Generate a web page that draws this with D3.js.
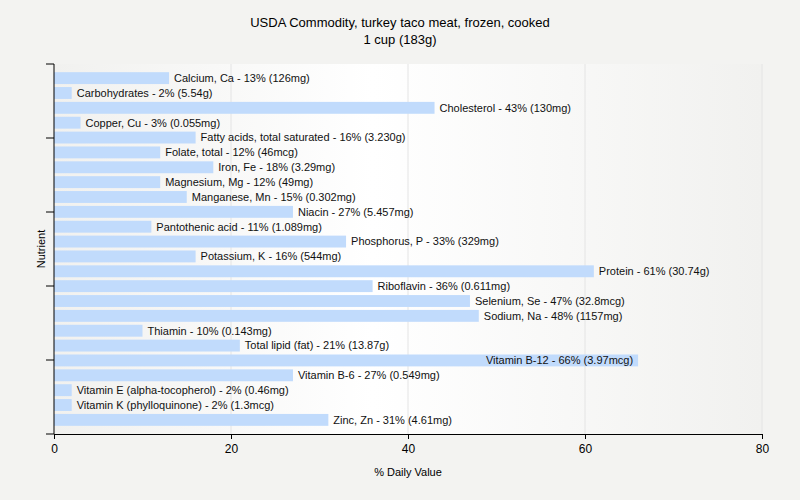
<!DOCTYPE html>
<html>
<head>
<meta charset="utf-8">
<script src="https://cdn.jsdelivr.net/npm/d3@7"></script>
<style>
  body { margin: 0; background: #f3f3f1; }
  text { font-family: "Liberation Sans", Arial, sans-serif; }
</style>
</head>
<body>
<div id="chart"></div>
<script>
var nutrients = [
  "Calcium, Ca", "Carbohydrates", "Cholesterol", "Copper, Cu",
  "Fatty acids, total saturated", "Folate, total", "Iron, Fe", "Magnesium, Mg",
  "Manganese, Mn", "Niacin", "Pantothenic acid", "Phosphorus, P",
  "Potassium, K", "Protein", "Riboflavin", "Selenium, Se",
  "Sodium, Na", "Thiamin", "Total lipid (fat)", "Vitamin B-12",
  "Vitamin B-6", "Vitamin E (alpha-tocopherol)", "Vitamin K (phylloquinone)", "Zinc, Zn"
];
var dailyValue = [13, 2, 43, 3, 16, 12, 18, 12, 15, 27, 11, 33, 16, 61, 36, 47, 48, 10, 21, 66, 27, 2, 2, 31];
var amounts = [
  "126mg", "5.54g", "130mg", "0.055mg", "3.230g", "46mcg", "3.29mg", "49mg",
  "0.302mg", "5.457mg", "1.089mg", "329mg", "544mg", "30.74g", "0.611mg", "32.8mcg",
  "1157mg", "0.143mg", "13.87g", "3.97mcg", "0.549mg", "0.46mg", "1.3mcg", "4.61mg"
];
var xTicks = [0, 20, 40, 60, 80];

var width = 800, height = 500;
var margin = { top: 64, right: 38, bottom: 66, left: 54 };

var svg = d3.select('#chart').append('svg')
  .attr('width', width).attr('height', height);

var defs = svg.append('defs');
var grad = defs.append('linearGradient').attr('id', 'bg')
  .attr('x1', '0%').attr('x2', '100%').attr('y1', '0%').attr('y2', '0%');
grad.append('stop').attr('offset', '0%').attr('stop-color', '#f1f1ef');
grad.append('stop').attr('offset', '45%').attr('stop-color', '#ffffff');
grad.append('stop').attr('offset', '100%').attr('stop-color', '#f1f1ef');

var x = d3.scaleLinear().domain([0, 80])
  .range([margin.left, width - margin.right]);
var y = d3.scaleBand().domain(nutrients)
  .range([margin.top, height - margin.bottom])
  .paddingInner(0.2).paddingOuter(0.55);

svg.append('rect')
  .attr('x', x(0)).attr('y', margin.top)
  .attr('width', x(80) - x(0)).attr('height', height - margin.bottom - margin.top)
  .attr('fill', 'url(#bg)');

// grid
svg.append('g').selectAll('line').data(xTicks.slice(1)).enter()
  .append('line')
  .attr('x1', function(d) { return x(d); }).attr('x2', function(d) { return x(d); })
  .attr('y1', margin.top).attr('y2', height - margin.bottom)
  .attr('stroke', '#e4e4e4').attr('stroke-width', 1);

var data = nutrients.map(function(n, i) {
  return { name: n, value: dailyValue[i], label: n + ' - ' + dailyValue[i] + '% (' + amounts[i] + ')' };
});

svg.append('g').selectAll('rect.bar').data(data).enter()
  .append('rect')
  .attr('class', 'bar')
  .attr('x', x(0))
  .attr('y', function(d) { return y(d.name); })
  .attr('width', function(d) { return x(d.value) - x(0); })
  .attr('height', y.bandwidth())
  .attr('fill', '#c1dbfc');

var labels = svg.append('g').selectAll('text').data(data).enter()
  .append('text')
  .attr('y', function(d) { return y(d.name) + y.bandwidth() / 2; })
  .attr('dy', '0.35em')
  .attr('font-size', 11)
  .attr('fill', '#111')
  .text(function(d) { return d.label; });

// labels that would run past the plot go inside the bar
labels.each(function(d) {
  var t = d3.select(this);
  var w = this.getComputedTextLength();
  if (x(d.value) + 5 + w > x(80)) {
    t.attr('x', x(d.value) - 5).attr('text-anchor', 'end');
  } else {
    t.attr('x', x(d.value) + 5).attr('text-anchor', 'start');
  }
});

// axes
var xAxis = d3.axisBottom(x).tickValues(xTicks).tickSize(5).tickSizeOuter(0);
var gx = svg.append('g')
  .attr('transform', 'translate(0,' + (height - margin.bottom) + ')')
  .call(xAxis);
gx.select('.domain').attr('stroke', '#000');
gx.selectAll('.tick line').attr('stroke', '#000');
gx.selectAll('.tick text').attr('font-size', 12).attr('fill', '#000')
  .attr('font-family', '"Liberation Sans", Arial, sans-serif').attr('dy', '0.9em');

// y axis: plain line with 5 even intervals of tick marks
var yTick = d3.scaleLinear().domain([0, 5]).range([margin.top, height - margin.bottom]);
var gy = svg.append('g').attr('transform', 'translate(' + margin.left + ',0)');
gy.append('line')
  .attr('x1', 0).attr('x2', 0)
  .attr('y1', margin.top).attr('y2', height - margin.bottom)
  .attr('stroke', '#000');
gy.selectAll('line.tick').data(d3.range(6)).enter()
  .append('line').attr('class', 'tick')
  .attr('x1', -8).attr('x2', 0)
  .attr('y1', function(d) { return yTick(d); }).attr('y2', function(d) { return yTick(d); })
  .attr('stroke', '#000');

// titles
svg.append('text').attr('x', 400).attr('y', 27).attr('text-anchor', 'middle')
  .attr('font-size', 13).attr('fill', '#000')
  .text('USDA Commodity, turkey taco meat, frozen, cooked');
svg.append('text').attr('x', 400).attr('y', 44).attr('text-anchor', 'middle')
  .attr('font-size', 13).attr('fill', '#000')
  .text('1 cup (183g)');

svg.append('text').attr('x', (x(0) + x(80)) / 2).attr('y', 476)
  .attr('text-anchor', 'middle').attr('font-size', 11).attr('fill', '#000')
  .text('% Daily Value');
svg.append('text')
  .attr('transform', 'translate(45,' + ((margin.top + height - margin.bottom) / 2) + ') rotate(-90)')
  .attr('text-anchor', 'middle').attr('font-size', 11).attr('fill', '#000')
  .text('Nutrient');
</script>
</body>
</html>
